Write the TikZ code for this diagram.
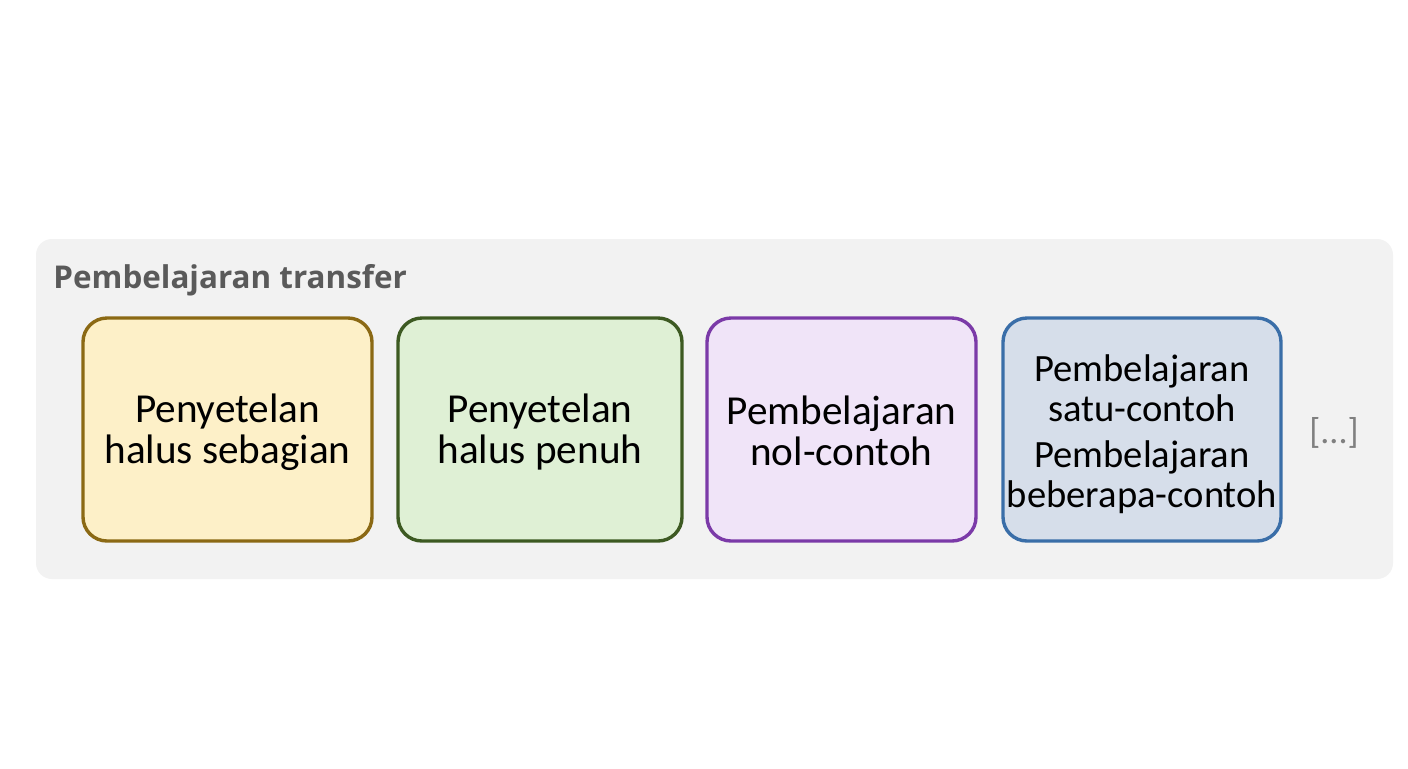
\documentclass[tikz,border=0pt]{standalone}
\usepackage{fontspec}
\setmainfont{Carlito}
\newfontfamily\titlefont{Open Sans}
\usetikzlibrary{positioning}
\definecolor{panelbg}{HTML}{F2F2F2}
\definecolor{ylfill}{HTML}{FDF0C8}
\definecolor{yldraw}{HTML}{8B6914}
\definecolor{grfill}{HTML}{DFF0D5}
\definecolor{grdraw}{HTML}{3D5A22}
\definecolor{pufill}{HTML}{F0E4F8}
\definecolor{pudraw}{HTML}{7B3AA8}
\definecolor{blfill}{HTML}{D6DEEA}
\definecolor{bldraw}{HTML}{3A6EA8}
\definecolor{titlegray}{HTML}{5A5A5A}
\tikzset{
  catbox/.style={rounded corners=12pt, line width=1.7pt, align=center,
    font=\fontsize{20.6}{20.5}\selectfont, text=black, inner sep=0pt},
}
\begin{document}
\begin{tikzpicture}[x=0.5pt,y=-0.5pt]
\useasboundingbox[fill=white] (0,0) rectangle (1408,768);
\fill[panelbg, rounded corners=8pt] (36,239) rectangle (1393,579);
\node[anchor=base west, inner sep=0pt, font=\titlefont\bfseries\fontsize{15.7}{18}\selectfont, text=titlegray] (title) at (53,288) {Pembelajaran transfer};
\draw[catbox, fill=ylfill, draw=yldraw] (83,318) rectangle (372,541);
\node[catbox] (b1) at (227.5,432) {Penyetelan\\halus sebagian};
\draw[catbox, fill=grfill, draw=grdraw] (398,318) rectangle (682,541);
\node[catbox] (b2) at (540,432) {Penyetelan\\halus penuh};
\draw[catbox, fill=pufill, draw=pudraw] (707,318) rectangle (976,541);
\node[catbox] (b3) at (841.5,431) {Pembelajaran\\nol-contoh};
\draw[catbox, fill=blfill, draw=bldraw] (1003,318) rectangle (1281,541);
\node[catbox, font=\fontsize{19.3}{20}\selectfont] (b4) at (1142,434) {Pembelajaran\\satu-contoh\\[3pt]Pembelajaran\\beberapa-contoh};
\node[font=\fontsize{18}{18}\selectfont, text=gray] (more) at (1334,433) {[...]};
\end{tikzpicture}
\end{document}
